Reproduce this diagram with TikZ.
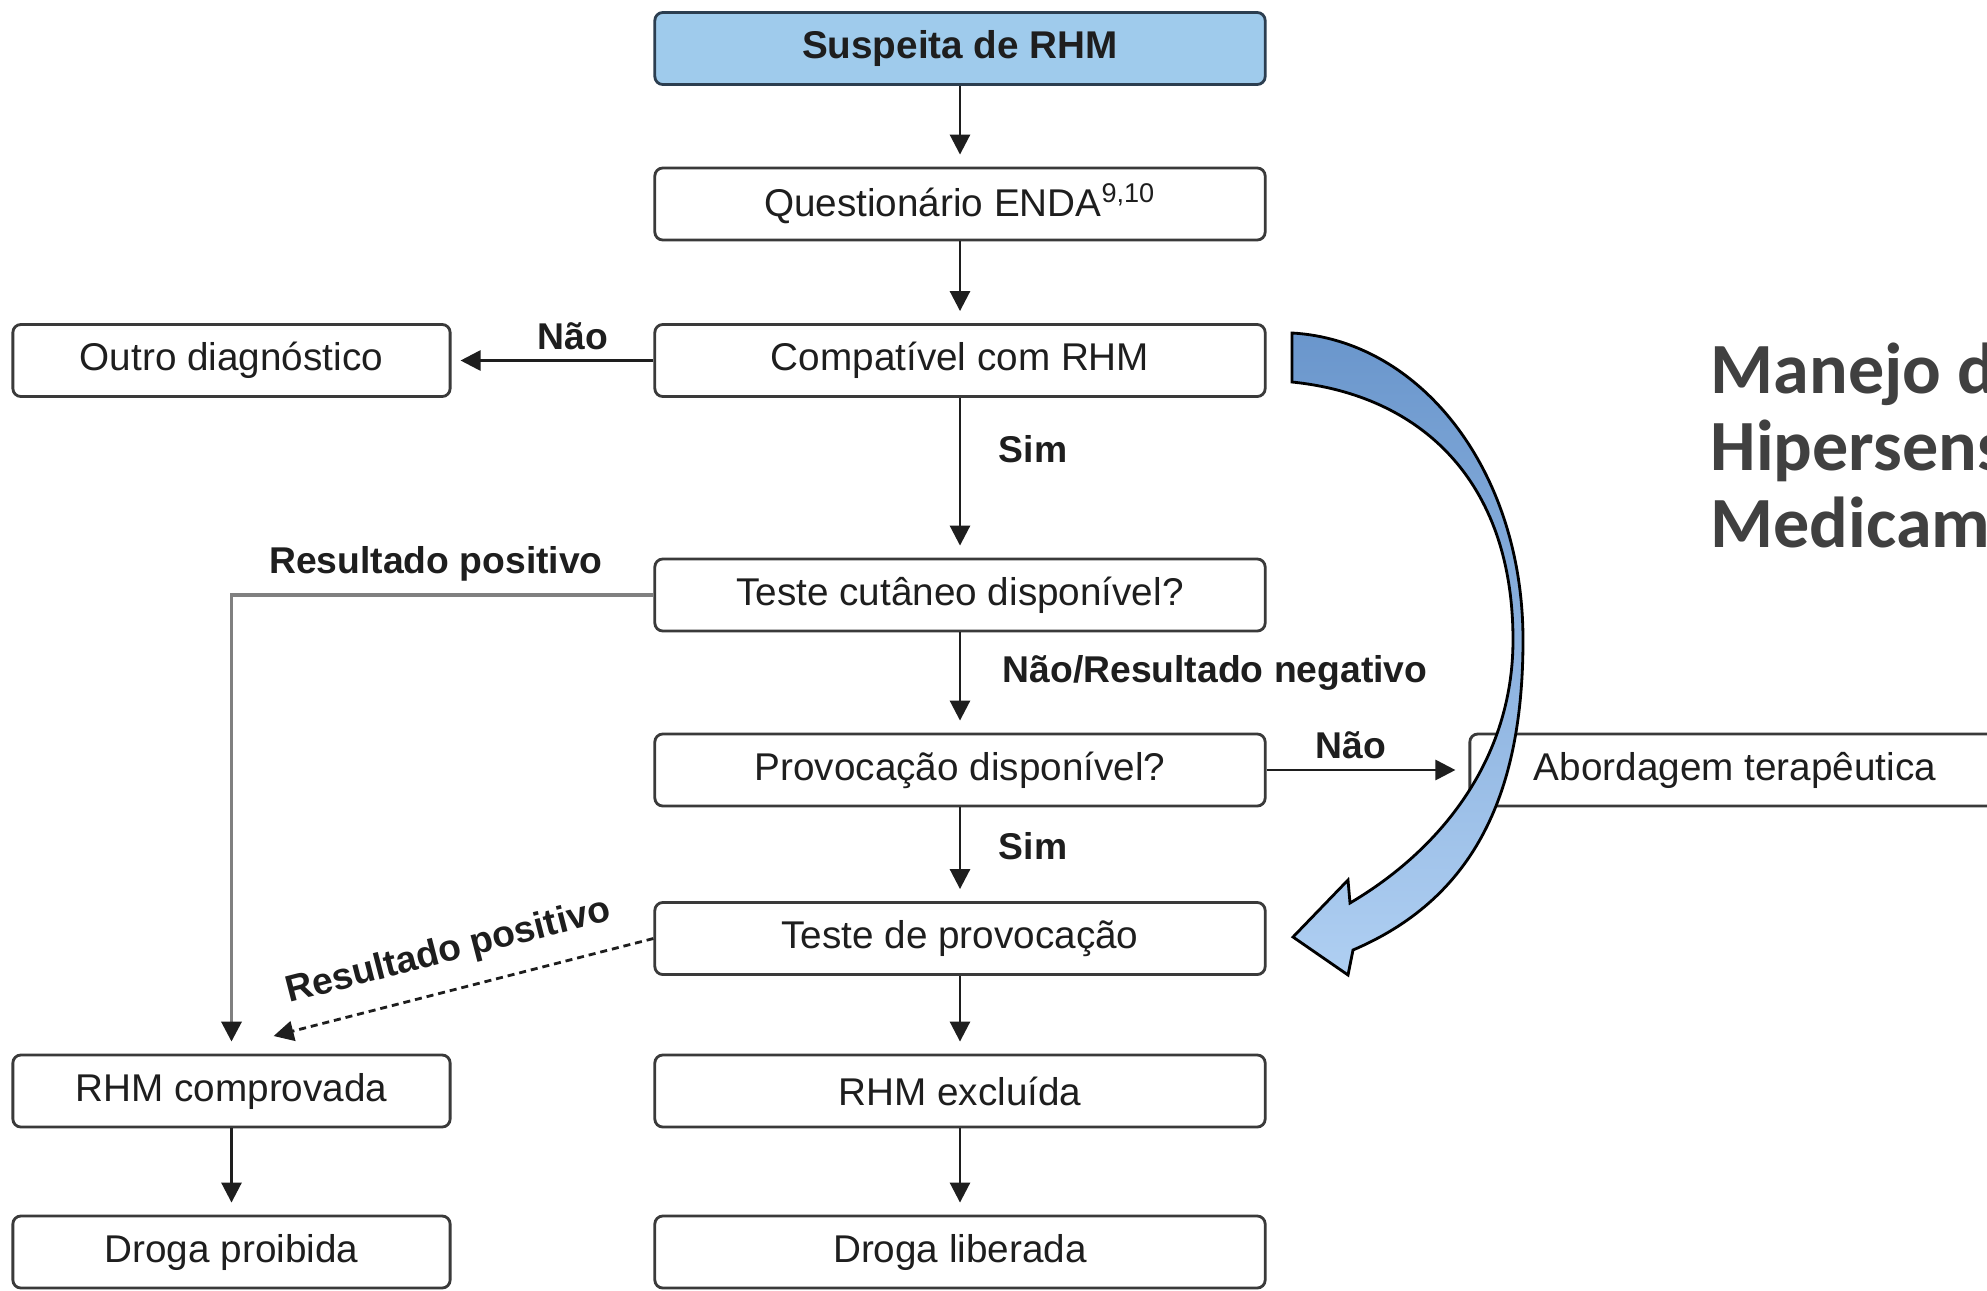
\documentclass[tikz,border=0pt]{standalone}
\usepackage{fontspec}
\setmainfont{Liberation Sans}
\newfontfamily\titlefont{Carlito}
\usetikzlibrary{arrows.meta}
\definecolor{boxline}{HTML}{3A3A3A}
\definecolor{txt}{HTML}{1E1E1E}
\definecolor{topfill}{HTML}{9FCBEC}
\definecolor{topline}{HTML}{2C3E50}
\definecolor{titlegray}{HTML}{404040}
\definecolor{arrowtop}{HTML}{6A96CC}
\definecolor{arrowbot}{HTML}{AFCFF2}
\definecolor{linegray}{HTML}{808080}
\begin{document}
\begin{tikzpicture}[x=0.01cm,y=-0.01cm,
  box/.style={draw=boxline, line width=0.8pt, rounded corners=0.08cm,
    minimum width=6.1cm, minimum height=0.72cm, inner sep=0pt,
    font=\fontsize{11}{13}\selectfont, text=txt, fill=white},
  sbox/.style={box, minimum width=4.37cm},
  topbox/.style={box, fill=topfill, draw=topline, font=\fontsize{11}{13}\selectfont\bfseries},
  lbl/.style={font=\fontsize{10.6}{12}\selectfont\bfseries, text=txt, inner sep=0pt},
  conn/.style={draw=txt, line width=0.8pt, -{Triangle[length=0.2cm,width=0.2cm]}, shorten >=0.12cm},
  grayconn/.style={conn, draw=linegray, line width=1pt, -{Triangle[length=0.2cm,width=0.2cm,color=txt]}},
  dashconn/.style={conn, dash pattern=on 2pt off 1.4pt},
  ttl/.style={font=\titlefont\fontsize{20.5}{24}\selectfont\bfseries, text=titlegray, inner sep=0pt, anchor=base west},
  bluearrow/.style={draw=black, line width=0.8pt, top color=arrowtop, bottom color=arrowbot}
]
\useasboundingbox (0,0) rectangle (1987,1290);
\clip (0,0) rectangle (1987,1290);
\fill[white] (0,0) rectangle (1987,1290);

% boxes
\node[topbox] (s)  at (960,48.5)  {Suspeita de RHM};
\node[box]    (q)  at (960,204)   {Questionário ENDA\textsuperscript{9,10}};
\node[box]    (cp) at (960,360.5) {Compatível com RHM};
\node[sbox]   (od) at (231.5,360.5) {Outro diagnóstico};
\node[box]    (tc) at (960,595)   {Teste cutâneo disponível?};
\node[box]    (pd) at (960,770)   {Provocação disponível?};
\node[box, minimum width=5.3cm] (ab) at (1735,770) {Abordagem terapêutica};
\node[box]    (tp) at (960,938.5) {Teste de provocação};
\node[sbox]   (rc) at (231.5,1091) {RHM comprovada};
\node[box]    (re) at (960,1091)  {RHM excluída};
\node[sbox]   (dp) at (231.5,1252) {Droga proibida};
\node[box]    (dl) at (960,1252)  {Droga liberada};

% connectors
\draw[conn] (s) -- (q);
\draw[conn] (q) -- (cp);
\draw[conn, shorten >=0.09cm] (cp.west) -- (od.east);
\draw[conn] (cp) -- (tc);
\draw[conn] (tc) -- (pd);
\draw[conn, shorten >=0.13cm] (pd.east) -- (ab.west);
\draw[conn] (pd) -- (tp);
\draw[conn] (tp) -- (re);
\draw[conn] (re) -- (dl);
\draw[conn] (rc) -- (dp);
\draw[grayconn] (tc.west) -| (rc.north);
\coordinate (dend) at (262,1039);
\draw[dashconn] (tp.west) -- node[lbl, sloped, above=0.19cm] (lrp2) {Resultado positivo} (dend);

% labels
\node[lbl] (lnao1) at (573,336) {Não};
\node[lbl] (lsim1) at (1033,449) {Sim};
\node[lbl] (lrp1) at (436,564) {Resultado positivo};
\node[lbl, anchor=west] (lnrn) at (1002,673) {Não/Resultado negativo};
\node[lbl] (lnao2) at (1351,745) {Não};
\node[lbl] (lsim2) at (1033,846) {Sim};

% curved blue arrow
\path[bluearrow] (1292,333) .. controls (1420,340) and (1523,470) .. (1523,640)
  .. controls (1523,800) and (1470,900) .. (1353,950)
  -- (1348,975) -- (1293,937) -- (1348,880) -- (1350,903)
  .. controls (1440,850) and (1513,760) .. (1513,640)
  .. controls (1513,480) and (1420,395) .. (1292,382) -- cycle;

% title
\node[ttl] (t1) at (1710,393) {Manejo de};
\node[ttl] (t2) at (1710,470) {Hipersensibilidade a};
\node[ttl] (t3) at (1710,547) {Medicamentos};
\end{tikzpicture}
\end{document}
